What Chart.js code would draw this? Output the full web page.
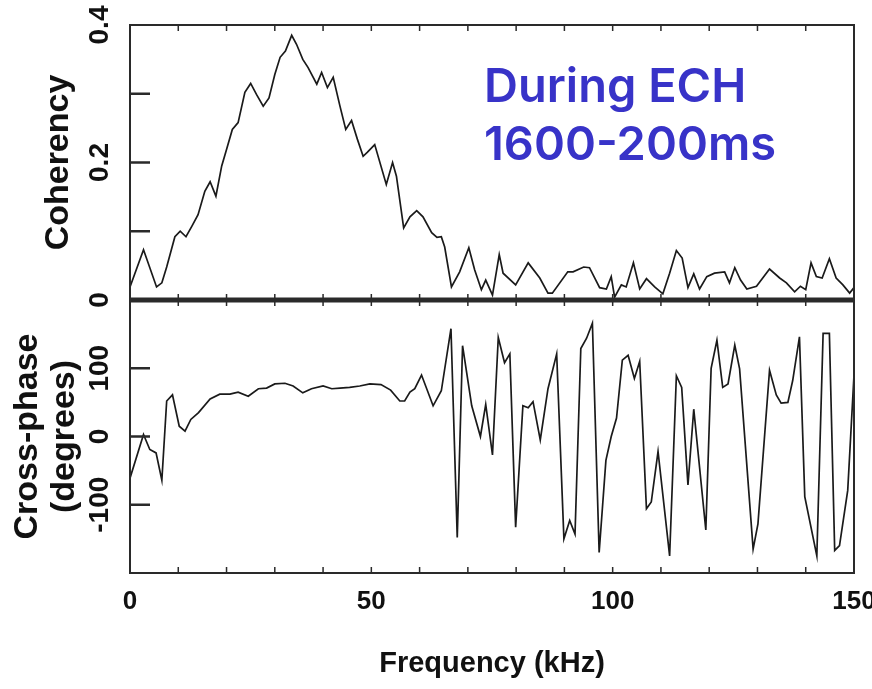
<!DOCTYPE html>
<html>
<head>
<script src="https://cdn.jsdelivr.net/npm/chart.js@4.4.1/dist/chart.umd.min.js"></script>
<style>
  body { margin: 0; background: #fff; overflow: hidden; width: 872px; height: 689px; position: relative; }
  #cohChart { position: absolute; left: 0; top: 0; }
  #phaseChart { position: absolute; left: 0; top: 290px; }
</style>
</head>
<body>
<canvas id="cohChart" width="900" height="310"></canvas>
<canvas id="phaseChart" width="900" height="399"></canvas>
<script>
// coherency spectrum (kHz, coherency)
var cohFreq = [0, 2.8, 5.5, 6.6, 7.6, 9.3, 10.4, 11.6, 12.8, 14.1, 15.5, 16.6, 17.8, 19.0, 20.0, 21.2, 22.4, 23.8, 25.0, 26.2,
  27.6, 28.8, 30.0, 31.1, 32.2, 33.5, 34.5, 35.8, 36.9, 38.7, 39.7, 40.9, 42.1, 43.5, 44.7, 45.9, 47.1, 48.3, 49.2, 50.7,
  53.1, 54.4, 55.2, 56.7, 58.0, 59.4, 60.7, 62.5, 63.6, 64.5, 65.2, 66.6, 68.3, 70.2, 71.4, 72.8, 73.7, 75.1, 76.5, 77.3,
  79.9, 82.5, 84.9, 86.6, 87.5, 90.7, 91.8, 94.0, 95.2, 97.3, 98.7, 99.7, 100.4, 101.8, 102.8, 104.3, 105.6, 107.0, 108.7, 110.4,
  111.8, 113.2, 114.4, 115.6, 116.8, 118.0, 119.5, 121.1, 123.2, 124.2, 125.3, 126.5, 127.8, 129.8, 132.5, 134.6, 136.0, 137.7, 138.9, 140.0,
  141.1, 142.2, 143.4, 144.9, 146.3, 147.7, 149.1, 150];
var cohValue = [0.019, 0.073, 0.019, 0.025, 0.048, 0.092, 0.100, 0.092, 0.107, 0.124, 0.158, 0.172, 0.151, 0.195, 0.219, 0.248, 0.258, 0.302, 0.315, 0.299,
  0.282, 0.294, 0.328, 0.353, 0.362, 0.385, 0.372, 0.350, 0.338, 0.314, 0.331, 0.309, 0.324, 0.282, 0.248, 0.261, 0.234, 0.209, 0.215, 0.226,
  0.168, 0.200, 0.180, 0.105, 0.121, 0.130, 0.121, 0.098, 0.091, 0.092, 0.077, 0.019, 0.041, 0.076, 0.044, 0.015, 0.029, 0.007, 0.066, 0.039,
  0.022, 0.054, 0.032, 0.010, 0.010, 0.041, 0.041, 0.048, 0.047, 0.018, 0.016, 0.034, 0.004, 0.022, 0.019, 0.054, 0.016, 0.031, 0.019, 0.009,
  0.039, 0.072, 0.061, 0.018, 0.038, 0.016, 0.034, 0.039, 0.041, 0.025, 0.047, 0.029, 0.016, 0.020, 0.045, 0.032, 0.025, 0.012, 0.020, 0.015,
  0.054, 0.034, 0.032, 0.060, 0.032, 0.022, 0.010, 0.018];

// cross-phase spectrum (kHz, degrees)
var phaseFreq = [0, 2.8, 4.1, 5.4, 6.6, 7.6, 8.8, 10.2, 11.4, 12.6, 14.2, 16.6, 18.6, 20.7, 22.4, 24.5, 26.6, 28.3, 30.0, 32.1,
  33.8, 35.8, 37.6, 40.0, 41.8, 43.5, 45.5, 47.6, 49.7, 52.0, 54.0, 55.9, 56.9, 58.0, 59.0, 60.4, 62.8, 64.5, 66.5, 67.8,
  68.9, 70.8, 72.6, 73.7, 75.1, 76.3, 77.6, 78.7, 79.9, 81.4, 82.5, 83.5, 85.0, 86.6, 88.4, 89.9, 91.1, 92.2, 93.4, 94.6,
  95.8, 97.2, 98.6, 99.7, 100.8, 102.0, 103.2, 104.5, 105.6, 107.0, 108.0, 109.4, 111.8, 113.2, 114.3, 115.6, 116.8, 119.3, 120.4, 121.6,
  122.8, 123.9, 125.3, 126.3, 129.1, 130.1, 132.5, 133.9, 134.9, 136.3, 137.3, 138.7, 139.8, 142.3, 143.6, 144.9, 146.0, 147.0, 148.7, 150];
var phaseValue = [-61, 3, -19, -24, -64, 52, 61, 15, 8, 25, 35, 55, 62, 62, 65, 59, 70, 71, 77, 78,
  74, 64, 70, 74, 70, 71, 72, 74, 77, 76, 68, 52, 52, 65, 70, 90, 45, 67, 158, -148,
  133, 45, 0, 47, -27, 145, 108, 121, -133, 45, 42, 51, -5, 70, 121, -150, -123, -143, 129, 144,
  166, -170, -35, 0, 27, 112, 119, 85, 110, -106, -96, -22, -175, 89, 72, -71, 40, -137, 100, 141,
  72, 77, 134, 99, -165, -128, 97, 61, 49, 50, 82, 146, -88, -175, 151, 151, -167, -160, -79, 90];

var freqMin = 0, freqMax = 150;
var cohTicks = [0, 0.2, 0.4];
var phaseTicks = [-100, 0, 100];
var freqTicks = [0, 50, 100, 150];

var tickFont = { family: "'Liberation Sans', Arial, sans-serif", size: 28, weight: 'bold' };
var titleFont = { family: "'Liberation Sans', Arial, sans-serif", size: 34, weight: 'bold', lineHeight: 1.1 };
var ink = '#111';

function toPoints(xs, ys) {
  return xs.map(function(f, i) { return { x: f, y: ys[i] }; });
}

// box, inward ticks
var framePlugin = {
  id: 'frame',
  afterDatasetsDraw: function(chart, args, opts) {
    var ctx = chart.ctx, a = chart.chartArea, x = chart.scales.x, y = chart.scales.y;
    ctx.save();
    ctx.strokeStyle = '#2a2a2a';
    ctx.lineWidth = 2;
    ctx.strokeRect(a.left, a.top, a.right - a.left, a.bottom - a.top);
    ctx.lineWidth = 1.5;
    ctx.beginPath();
    for (var f = 10; f < freqMax; f += 10) {
      var px = x.getPixelForValue(f);
      ctx.moveTo(px, a.top); ctx.lineTo(px, a.top + 6);
      ctx.moveTo(px, a.bottom); ctx.lineTo(px, a.bottom - 6);
    }
    ctx.stroke();
    ctx.lineWidth = 2.5;
    ctx.beginPath();
    y.ticks.forEach(function(t) {
      if (t.value <= y.min || t.value >= y.max) return;
      var py = y.getPixelForValue(t.value);
      ctx.moveTo(a.left, py); ctx.lineTo(a.left + 20, py);
    });
    ctx.stroke();
    if (opts.heavyBottom) {
      ctx.lineWidth = 5;
      ctx.beginPath();
      ctx.moveTo(a.left, a.bottom); ctx.lineTo(a.right, a.bottom);
      ctx.stroke();
    }
    ctx.restore();
  }
};

// blue annotation
var notePlugin = {
  id: 'note',
  afterDraw: function(chart, args, opts) {
    if (!opts.lines) return;
    var ctx = chart.ctx;
    ctx.save();
    ctx.fillStyle = '#3833c8';
    ctx.font = "600 47px Inter, 'Noto Sans', sans-serif";
    ctx.textBaseline = 'alphabetic';
    opts.lines.forEach(function(l) { ctx.fillText(l.text, l.x, l.y); });
    ctx.restore();
  }
};

function yAxis(min, max, step, labels, title, titlePad, tickPad) {
  return {
    type: 'linear', min: min, max: max,
    grid: { display: false, drawTicks: false },
    border: { display: false },
    ticks: {
      stepSize: step, minRotation: 90, maxRotation: 90, crossAlign: 'center',
      padding: tickPad, font: tickFont, color: ink,
      callback: function(v) {
        return labels.some(function(l) { return Math.abs(l - v) < 1e-6; }) ? String(Math.round(v * 10) / 10) : '';
      }
    },
    title: { display: true, text: title, font: titleFont, color: ink, padding: { top: titlePad, bottom: 0 } },
    afterFit: function(s) { s.width = 130; s.paddingTop = 0; s.paddingBottom = 0; }
  };
}

var common = {
  responsive: false,
  animation: false,
  plugins: { legend: { display: false }, tooltip: { enabled: false } }
};

new Chart(document.getElementById('cohChart'), {
  type: 'line',
  data: { datasets: [{ data: toPoints(cohFreq, cohValue), borderColor: '#1a1a1a', borderWidth: 1.7, pointRadius: 0, tension: 0 }] },
  options: Object.assign({}, common, {
    layout: { padding: { left: 0, top: 25, right: 46, bottom: 10 } },
    scales: {
      x: { type: 'linear', min: freqMin, max: freqMax, display: false },
      y: yAxis(0, 0.4, 0.1, cohTicks, 'Coherency', 40, 10.5)
    },
    plugins: Object.assign({}, common.plugins, {
      frame: { heavyBottom: true },
      note: { lines: [ { text: 'During ECH', x: 484, y: 102 }, { text: '1600-200ms', x: 484, y: 160 } ] }
    })
  }),
  plugins: [framePlugin, notePlugin]
});

new Chart(document.getElementById('phaseChart'), {
  type: 'line',
  data: { datasets: [{ data: toPoints(phaseFreq, phaseValue), borderColor: '#1a1a1a', borderWidth: 1.7, pointRadius: 0, tension: 0 }] },
  options: Object.assign({}, common, {
    layout: { padding: { left: 0, top: 10, right: 46, bottom: 0 } },
    scales: {
      x: {
        type: 'linear', min: freqMin, max: freqMax,
        grid: { display: false, drawTicks: false },
        border: { display: false },
        afterBuildTicks: function(s) { s.ticks = freqTicks.map(function(v) { return { value: v }; }); },
        ticks: { padding: 13, font: { family: tickFont.family, size: 26, weight: 'bold' }, color: ink, maxRotation: 0 },
        title: { display: true, text: 'Frequency (kHz)', font: { family: tickFont.family, size: 29, weight: 'bold' }, color: ink, padding: { top: 0, bottom: 8 } },
        afterFit: function(s) { s.height = 116; s.paddingLeft = 0; s.paddingRight = 0; }
      },
      y: yAxis(-200, 200, 100, phaseTicks, ['Cross-phase', '(degrees)'], 9, 2)
    },
    plugins: Object.assign({}, common.plugins, { frame: { heavyBottom: false } })
  }),
  plugins: [framePlugin, notePlugin]
});
</script>
</body>
</html>
